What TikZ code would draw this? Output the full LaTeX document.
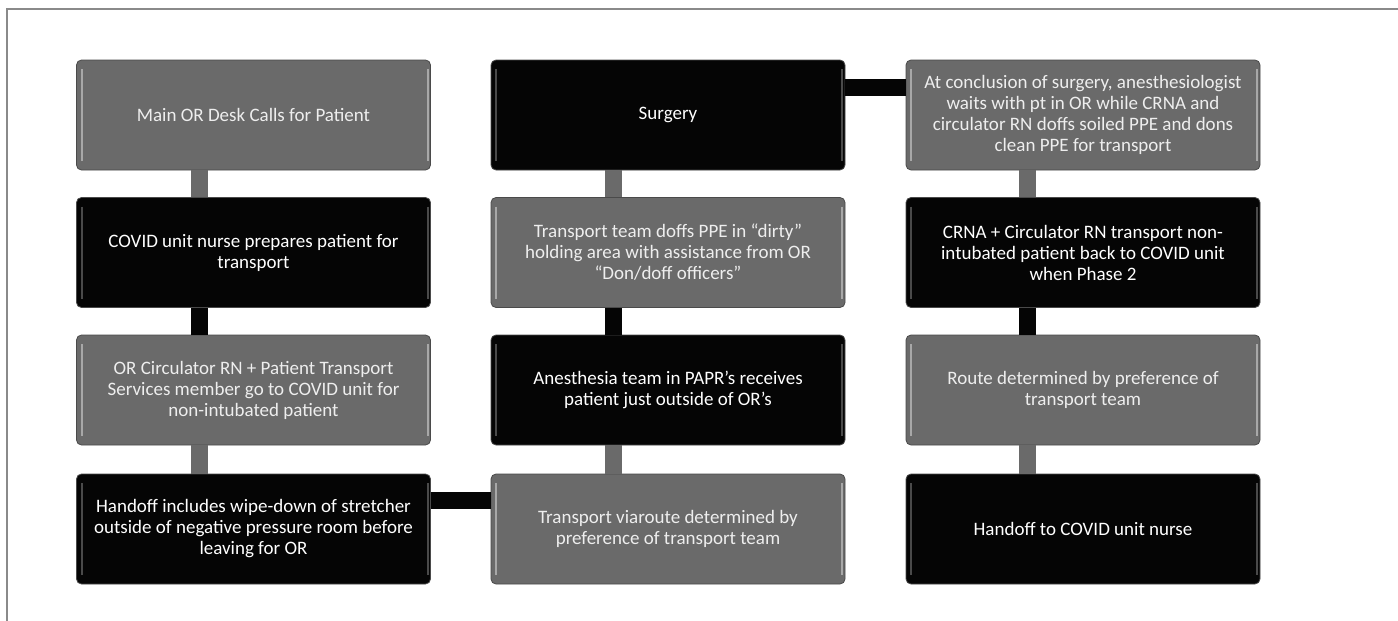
\documentclass[tikz,border=0pt]{standalone}
\usepackage{fontspec}
\setmainfont{Carlito}
\definecolor{boxgray}{HTML}{6A6A6A}
\definecolor{boxblack}{HTML}{050505}
\definecolor{hlgray}{HTML}{A8A8A8}
\definecolor{hlblack}{HTML}{4A4A4A}
\definecolor{framegray}{HTML}{8A8A8A}
\definecolor{txt}{HTML}{EEEEEE}
\tikzset{
  stepbox/.style={rounded corners=5pt, minimum width=354pt, minimum height=110pt,
    align=center, font=\fontsize{19}{21}\selectfont, inner sep=0pt, text=txt},
  graybox/.style={stepbox, fill=boxgray, draw=boxgray!70!black, line width=0.8pt,
    path picture={
      \draw[hlgray, line width=2pt] ([xshift=5pt,yshift=-9pt]path picture bounding box.north west) -- ([xshift=5pt,yshift=9pt]path picture bounding box.south west);
      \draw[hlgray, line width=2pt] ([xshift=-3pt,yshift=-9pt]path picture bounding box.north east) -- ([xshift=-3pt,yshift=9pt]path picture bounding box.south east);
    }},
  blackbox/.style={stepbox, fill=boxblack, draw=hlblack, line width=0.8pt, text=white,
    path picture={
      \draw[hlblack, line width=2pt] ([xshift=5pt,yshift=-9pt]path picture bounding box.north west) -- ([xshift=5pt,yshift=9pt]path picture bounding box.south west);
      \draw[hlblack, line width=2pt] ([xshift=-3pt,yshift=-9pt]path picture bounding box.north east) -- ([xshift=-3pt,yshift=9pt]path picture bounding box.south east);
    }},
  gconn/.style={line width=17pt, draw=boxgray},
  bconn/.style={line width=17pt, draw=boxblack},
}
\begin{document}
\begin{tikzpicture}[x=1pt,y=-1pt]
\useasboundingbox (0,0) rectangle (1398,621);
\fill[white] (0,0) rectangle (1398,621);
\draw[framegray, line width=1.5pt] (7,621) -- (7,9) -- (1398,9);

% column 1
\node[graybox]  (a1) at (253.5,115)   {Main OR Desk Calls for Patient};
\node[blackbox] (a2) at (253.5,252.5) {COVID unit nurse prepares patient for\\transport};
\node[graybox]  (a3) at (253.5,390)   {OR Circulator RN + Patient Transport\\Services member go to COVID unit for\\non-intubated patient};
\node[blackbox] (a4) at (253.5,529)   {Handoff includes wipe-down of stretcher\\outside of negative pressure room before\\leaving for OR};
% column 2
\node[blackbox] (b1) at (668,115)   {Surgery};
\node[graybox]  (b2) at (668,252.5) {Transport team doffs PPE in “dirty”\\holding area with assistance from OR\\“Don/doff officers”};
\node[blackbox] (b3) at (668,390)   {Anesthesia team in PAPR’s receives\\patient just outside of OR’s};
\node[graybox]  (b4) at (668,529)   {Transport viaroute determined by\\preference of transport team};
% column 3
\node[graybox]  (c1) at (1083,115)   {At conclusion of surgery, anesthesiologist\\waits with pt in OR while CRNA and\\circulator RN doffs soiled PPE and dons\\clean PPE for transport};
\node[blackbox] (c2) at (1083,252.5) {CRNA + Circulator RN transport non-\\intubated patient back to COVID unit\\when Phase 2};
\node[graybox]  (c3) at (1083,390)   {Route determined by preference of\\transport team};
\node[blackbox] (c4) at (1083,529)   {Handoff to COVID unit nurse};

% connectors
\draw[gconn] ([xshift=-54pt]a1.south) -- ([xshift=-54pt]a2.north);
\draw[bconn] ([xshift=-54pt]a2.south) -- ([xshift=-54pt]a3.north);
\draw[gconn] ([xshift=-54pt]a3.south) -- ([xshift=-54pt]a4.north);
\draw[bconn] ([yshift=29pt]a4.east) -- ([yshift=29pt]b4.west);
\draw[gconn] ([xshift=-55pt]b4.north) -- ([xshift=-55pt]b3.south);
\draw[bconn] ([xshift=-55pt]b3.north) -- ([xshift=-55pt]b2.south);
\draw[gconn] ([xshift=-55pt]b2.north) -- ([xshift=-55pt]b1.south);
\draw[bconn] ([yshift=28pt]b1.east) -- ([yshift=28pt]c1.west);
\draw[gconn] ([xshift=-56pt]c1.south) -- ([xshift=-56pt]c2.north);
\draw[bconn] ([xshift=-56pt]c2.south) -- ([xshift=-56pt]c3.north);
\draw[gconn] ([xshift=-56pt]c3.south) -- ([xshift=-56pt]c4.north);
\end{tikzpicture}
\end{document}
